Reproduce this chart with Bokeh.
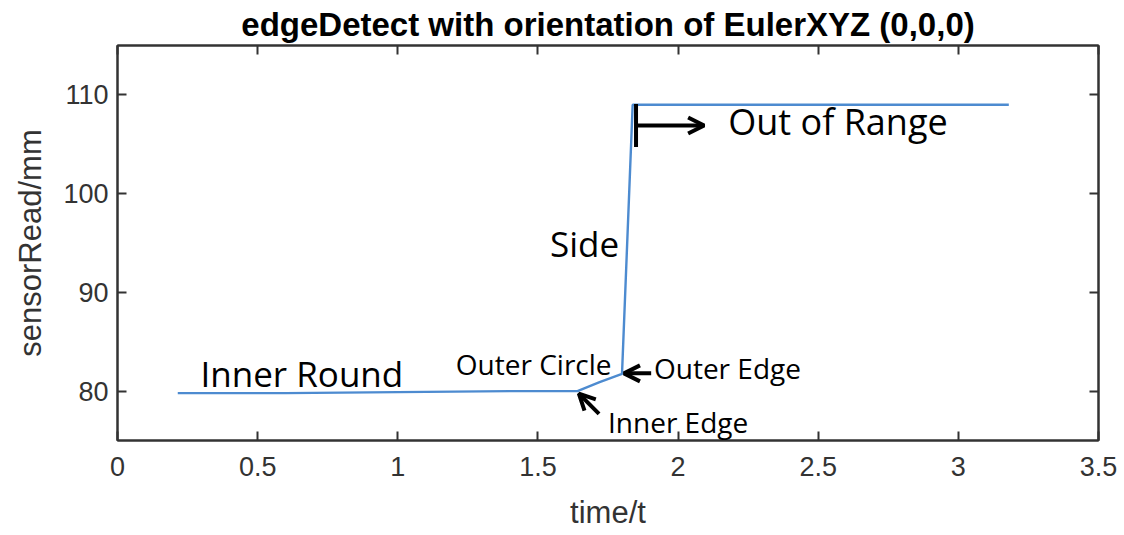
from bokeh.plotting import figure
from bokeh.models import (Range1d, LinearAxis, FixedTicker, Arrow, OpenHead,
                          TeeHead, Label)
from bokeh.embed import file_html
from bokeh.resources import INLINE

# sensor reading over time
time_t = [0.215, 0.35, 0.6, 0.8, 1.0, 1.2, 1.4, 1.55, 1.641, 1.72, 1.80, 1.838, 2.5, 3.18]
sensor_read = [79.8, 79.8, 79.8, 79.85, 79.9, 79.95, 80.0, 80.0, 80.0, 80.9, 81.75, 109.0, 109.0, 109.0]

x_ticks = [0, 0.5, 1, 1.5, 2, 2.5, 3, 3.5]
x_tick_labels = ["0", "0.5", "1", "1.5", "2", "2.5", "3", "3.5"]
y_ticks = [80, 90, 100, 110]
y_tick_labels = ["80", "90", "100", "110"]

# region labels: text, x, y, size
region_text = ["Inner Round", "Outer Circle", "Outer Edge", "Inner Edge", "Side", "Out of Range"]
region_x = [0.296, 1.207, 1.914, 1.75, 1.543, 2.179]
region_y = [81.8, 82.7, 82.3, 76.9, 95.0, 107.3]
region_size = ["35px", "28px", "28px", "28px", "35px", "36px"]

AX = "#333333"
TICK_FONT = "Liberation Sans"

p = figure(width=1124, height=535, output_backend="svg", toolbar_location=None,
           x_range=Range1d(0, 3.5), y_range=Range1d(75, 115),
           min_border_left=117, min_border_right=26, min_border_top=45,
           min_border_bottom=95,
           title="edgeDetect with orientation of EulerXYZ (0,0,0)")
p.title.align = "center"
p.title.vertical_align = "top"
p.title.text_font = "Liberation Sans"
p.title.text_font_style = "bold"
p.title.text_font_size = "33px"
p.title.text_color = "#000000"
p.title.standoff = 2
p.background_fill_color = "white"
p.border_fill_color = "white"
p.grid.visible = False
p.outline_line_color = AX
p.outline_line_width = 2


def style_axis(ax, labels=True):
    ax.major_tick_in = 9
    ax.major_tick_out = 0
    ax.minor_tick_line_color = None
    ax.axis_line_color = AX
    ax.axis_line_width = 2
    ax.major_tick_line_color = AX
    ax.major_tick_line_width = 2
    ax.major_label_text_font = TICK_FONT
    ax.major_label_text_font_size = "27px"
    ax.major_label_text_color = AX
    ax.axis_label_text_font = TICK_FONT
    ax.axis_label_text_font_size = "31px"
    ax.axis_label_text_font_style = "normal"
    ax.axis_label_text_color = AX
    if not labels:
        ax.major_label_text_alpha = 0
        ax.major_label_text_font_size = "1px"


xa = p.xaxis[0]
ya = p.yaxis[0]
xa.ticker = FixedTicker(ticks=x_ticks)
ya.ticker = FixedTicker(ticks=y_ticks)
xa.major_label_overrides = dict(zip(x_ticks, x_tick_labels))
ya.major_label_overrides = dict(zip(y_ticks, y_tick_labels))
xa.axis_label = "time/t"
ya.axis_label = "sensorRead/mm"
style_axis(xa)
style_axis(ya)
xa.major_label_standoff = 16
ya.major_label_standoff = 9
xa.axis_label_standoff = 16
ya.axis_label_standoff = 12

top = LinearAxis(ticker=FixedTicker(ticks=x_ticks))
right = LinearAxis(ticker=FixedTicker(ticks=y_ticks))
style_axis(top, labels=False)
style_axis(right, labels=False)
p.add_layout(top, "above")
p.add_layout(right, "right")

p.line(time_t, sensor_read, line_color="#4d8bd0", line_width=2.4)

for txt, lx, ly, fs in zip(region_text, region_x, region_y, region_size):
    p.add_layout(Label(x=lx, y=ly, text=txt, text_font="Open Sans",
                       text_font_size=fs, text_color="black",
                       text_align="left", text_baseline="alphabetic"))

# pointer arrows
arrow_style = dict(line_color="black", line_width=4)
p.add_layout(Arrow(x_start=1.904, y_start=81.8, x_end=1.807, y_end=81.8,
                   end=OpenHead(size=16, line_width=4, line_color="black"),
                   **arrow_style))
p.add_layout(Arrow(x_start=1.718, y_start=77.7, x_end=1.646, y_end=79.75,
                   end=OpenHead(size=16, line_width=4, line_color="black"),
                   **arrow_style))
p.add_layout(Arrow(x_start=1.85, y_start=106.9, x_end=2.093, y_end=106.9,
                   start=TeeHead(size=43, line_width=4, line_color="black"),
                   end=OpenHead(size=16, line_width=4, line_color="black"),
                   **arrow_style))

open("out.html", "w").write(file_html(p, INLINE))
